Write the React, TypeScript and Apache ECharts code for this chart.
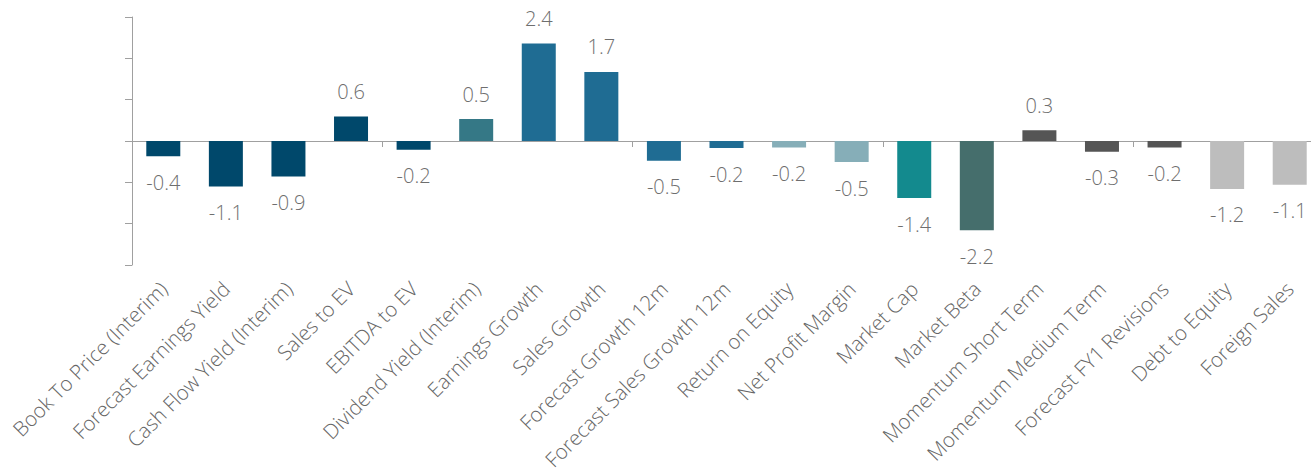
import React, { useEffect, useRef } from "react";
import * as echarts from "echarts";

const categories = [
  "Book To Price (Interim)",
  "Forecast Earnings Yield",
  "Cash Flow Yield (Interim)",
  "Sales to EV",
  "EBITDA to EV",
  "Dividend Yield (Interim)",
  "Earnings Growth",
  "Sales Growth",
  "Forecast Growth 12m",
  "Forecast Sales Growth 12m",
  "Return on Equity",
  "Net Profit Margin",
  "Market Cap",
  "Market Beta",
  "Momentum Short Term",
  "Momentum Medium Term",
  "Forecast FY1 Revisions",
  "Debt to Equity",
  "Foreign Sales",
];

const values = [
  -0.37, -1.1, -0.86, 0.59, -0.21, 0.53, 2.36, 1.67, -0.48, -0.17, -0.16, -0.51,
  -1.38, -2.16, 0.26, -0.26, -0.16, -1.16, -1.06,
];

const barColors = [
  "#00486b", "#00486b", "#00486b", "#00486b", "#00486b",
  "#357886",
  "#1f6c93", "#1f6c93", "#1f6c93", "#1f6c93",
  "#86aeb8", "#86aeb8",
  "#138a8e",
  "#456e6c",
  "#555555", "#555555", "#555555",
  "#bdbdbd", "#bdbdbd",
];

const yTicks = { min: -3, max: 3, interval: 1 };

export default function App() {
  const ref = useRef<HTMLDivElement>(null);

  useEffect(() => {
    document.body.style.margin = "0";
    if (!ref.current) return;
    const chart = echarts.init(ref.current, undefined, { renderer: "svg" });
    const font = "'Open Sans', 'Noto Sans', sans-serif";
    chart.setOption({
      animation: false,
      textStyle: { fontFamily: font, fontWeight: 300 },
      grid: {
        left: 132,
        right: 0,
        top: 17,
        bottom: 208,
        containLabel: false,
        outerBoundsMode: "none",
      },
      xAxis: [
        {
          type: "category",
          data: categories,
          position: "bottom",
          axisLine: { show: true, onZero: true, lineStyle: { color: "#a0a0a0", width: 1 } },
          axisTick: { show: true, length: 6, lineStyle: { color: "#a0a0a0" } },
          axisLabel: { show: false },
          splitLine: { show: false },
        },
        {
          type: "category",
          data: categories,
          position: "bottom",
          axisLine: { show: false, onZero: false },
          axisTick: { show: false },
          axisLabel: {
            show: true,
            rotate: 45,
            interval: 0,
            margin: 20,
            fontSize: 20.5,
            fontFamily: font,
            fontWeight: 300,
            color: "#666666",
          },
          splitLine: { show: false },
        },
      ],
      yAxis: {
        type: "value",
        min: yTicks.min,
        max: yTicks.max,
        interval: yTicks.interval,
        axisLine: { show: true, lineStyle: { color: "#a0a0a0" } },
        axisTick: { show: true, length: 7, lineStyle: { color: "#a0a0a0" } },
        axisLabel: { show: false },
        splitLine: { show: false },
      },
      series: [
        {
          type: "bar",
          xAxisIndex: 0,
          barWidth: 34,
          data: values.map((v, i) => ({
            value: v,
            itemStyle: { color: barColors[i] },
            label: {
              show: true,
              position: v >= 0 ? "top" : "bottom",
              distance: v >= 0 ? 15 : 16,
              formatter: v.toFixed(1),
              fontSize: 20,
              fontFamily: font,
              fontWeight: 300,
              color: "#6e6e6e",
            },
          })),
        },
      ],
    });
    return () => chart.dispose();
  }, []);

  return (
    <div style={{ width: 1311, height: 473, overflow: "hidden", position: "relative" }}>
      <div ref={ref} style={{ width: 1321, height: 473 }} />
    </div>
  );
}
